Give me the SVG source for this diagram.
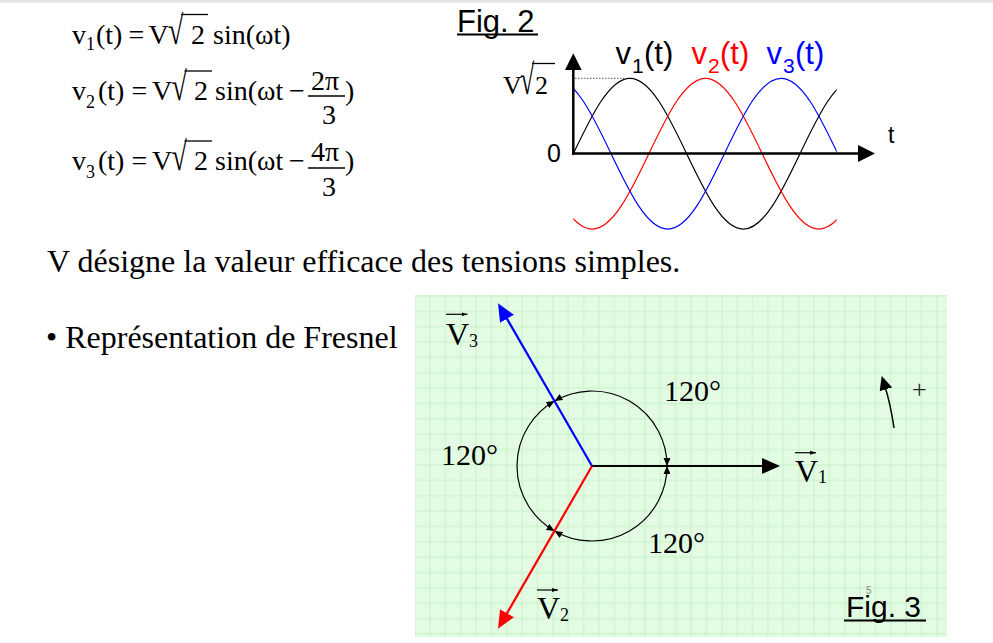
<svg xmlns="http://www.w3.org/2000/svg" width="993" height="643" viewBox="0 0 993 643">
<style>
.serif{font-family:"Liberation Serif","Times New Roman",serif;fill:#000}
.sans{font-family:"Liberation Sans",Arial,sans-serif;fill:#000}
.eq{font-size:28px}
.eqs{font-size:18px}
.body{font-size:32px}
.ang{font-size:30px}
.vec{font-size:32px}
.vsub{font-size:18px}
.lab{font-size:31px}
.labs{font-size:21px}
.rad{stroke:#000;stroke-width:1.3;fill:none}
.arc{fill:none;stroke:#000;stroke-width:1.2;marker-start:url(#smallHead);marker-end:url(#smallHead)}
.ov{stroke:#000;stroke-width:1.2;marker-end:url(#tinyHead)}
.wave{fill:none;stroke-width:1.2;vector-effect:non-scaling-stroke}
</style>
<defs>
<pattern id="grid" patternUnits="userSpaceOnUse" x="406.92" y="288.32" width="15.36" height="15.36">
<path d="M7.68 0V15.36M0 7.68H15.36" stroke="#c6f1c6" stroke-width="1" fill="none"/>
</pattern>
<marker id="headBlack" markerUnits="userSpaceOnUse" viewBox="0 0 18 16" markerWidth="18" markerHeight="16" refX="8" refY="8" orient="auto"><path d="M0,0L18,8L0,16z" fill="#000"/></marker>
<marker id="headRed" markerUnits="userSpaceOnUse" viewBox="0 0 18 16" markerWidth="18" markerHeight="16" refX="8" refY="8" orient="auto"><path d="M0,0L18,8L0,16z" fill="#f00"/></marker>
<marker id="headBlue" markerUnits="userSpaceOnUse" viewBox="0 0 18 16" markerWidth="18" markerHeight="16" refX="8" refY="8" orient="auto"><path d="M0,0L18,8L0,16z" fill="#00f"/></marker>
<marker id="axisHead" markerUnits="userSpaceOnUse" viewBox="0 0 17 17" markerWidth="17" markerHeight="17" refX="7" refY="8.5" orient="auto"><path d="M0,0L17,8.5L0,17z" fill="#000"/></marker>
<marker id="smallHead" markerUnits="userSpaceOnUse" viewBox="0 0 8 7" markerWidth="8" markerHeight="7" refX="8" refY="3.5" orient="auto-start-reverse"><path d="M0,0L8,3.5L0,7z" fill="#000"/></marker>
<marker id="tinyHead" markerUnits="userSpaceOnUse" viewBox="0 0 6 4" markerWidth="6" markerHeight="4" refX="6" refY="2" orient="auto"><path d="M0,0L6,2L0,4z" fill="#000"/></marker>
<marker id="rotHead" markerUnits="userSpaceOnUse" viewBox="0 0 14 13" markerWidth="14" markerHeight="13" refX="4" refY="6.5" orient="auto"><path d="M0,0L14,6.5L0,13z" fill="#000"/></marker>
<clipPath id="waveClip"><rect x="573.3" y="60" width="263.4" height="180"/></clipPath>
</defs>

<rect x="0" y="0" width="993" height="643" fill="#fff"/>
<rect x="0" y="0" width="993" height="2.5" fill="#e4e4e4"/>

<!-- Equations -->
<g id="equations" class="serif eq">
<g id="eq1">
<text x="72" y="43.5">v</text>
<text x="86" y="50" class="eqs">1</text>
<text x="96" y="43.5">(t)</text>
<text x="128.5" y="43.5">=</text>
<text x="148.5" y="43.5">V</text>
<text transform="translate(168,43.5) scale(1,1.44)">√</text>
<line class="rad" x1="181" y1="14.5" x2="208" y2="14.5"/>
<text x="191" y="43.5">2</text>
<text x="213" y="43.5">sin(ωt)</text>
</g>
<g id="eq2">
<text x="72" y="100">v</text>
<text x="86" y="108" class="eqs">2</text>
<text x="98" y="100">(t)</text>
<text x="131.5" y="100">=</text>
<text x="152" y="100">V</text>
<text transform="translate(171.5,100) scale(1,1.44)">√</text>
<line class="rad" x1="184.5" y1="71" x2="212" y2="71"/>
<text x="194" y="100">2</text>
<text x="215" y="100">sin(ωt</text>
<text x="289" y="100">−</text>
<text x="311" y="89.5">2π</text>
<line class="rad" x1="308" y1="96" x2="345" y2="96"/>
<text x="322" y="123.5">3</text>
<text x="345" y="100">)</text>
</g>
<g id="eq3">
<text x="72" y="170">v</text>
<text x="86" y="178" class="eqs">3</text>
<text x="98" y="170">(t)</text>
<text x="131.5" y="170">=</text>
<text x="152" y="170">V</text>
<text transform="translate(171.5,170) scale(1,1.44)">√</text>
<line class="rad" x1="184.5" y1="141" x2="212" y2="141"/>
<text x="194" y="170">2</text>
<text x="215" y="170">sin(ωt</text>
<text x="289" y="170">−</text>
<text x="311" y="161">4π</text>
<line class="rad" x1="308" y1="168" x2="345" y2="168"/>
<text x="322" y="195.5">3</text>
<text x="345" y="170">)</text>
</g>
</g>

<!-- Fig. 2 -->
<g id="fig2">
<text x="457" y="31.7" class="sans" font-size="31">Fig. 2</text>
<line x1="457" y1="34.5" x2="538" y2="34.5" stroke="#000" stroke-width="2"/>
<g id="waves" clip-path="url(#waveClip)">
<path class="wave" stroke="#000" transform="translate(573.3,153.7) scale(36.08,-75.4)" d="M-6.2832,0 c0.5123,0.5123 1.0023,1 1.5708,1 c0.5685,0 1.0585,-0.4877 1.5708,-1 c0.5123,-0.5123 1.0023,-1 1.5708,-1 c0.5685,0 1.0585,0.4877 1.5708,1 c0.5123,0.5123 1.0023,1 1.5708,1 c0.5685,0 1.0585,-0.4877 1.5708,-1 c0.5123,-0.5123 1.0023,-1 1.5708,-1 c0.5685,0 1.0585,0.4877 1.5708,1 c0.5123,0.5123 1.0023,1 1.5708,1 c0.5685,0 1.0585,-0.4877 1.5708,-1 c0.5123,-0.5123 1.0023,-1 1.5708,-1 c0.5685,0 1.0585,0.4877 1.5708,1"/>
<path class="wave" stroke="#f00" transform="translate(573.3,153.7) scale(36.08,-75.4)" d="M-4.1888,0 c0.5123,0.5123 1.0023,1 1.5708,1 c0.5685,0 1.0585,-0.4877 1.5708,-1 c0.5123,-0.5123 1.0023,-1 1.5708,-1 c0.5685,0 1.0585,0.4877 1.5708,1 c0.5123,0.5123 1.0023,1 1.5708,1 c0.5685,0 1.0585,-0.4877 1.5708,-1 c0.5123,-0.5123 1.0023,-1 1.5708,-1 c0.5685,0 1.0585,0.4877 1.5708,1 c0.5123,0.5123 1.0023,1 1.5708,1 c0.5685,0 1.0585,-0.4877 1.5708,-1 c0.5123,-0.5123 1.0023,-1 1.5708,-1 c0.5685,0 1.0585,0.4877 1.5708,1"/>
<path class="wave" stroke="#00f" transform="translate(573.3,153.7) scale(36.08,-75.4)" d="M-2.0944,0 c0.5123,0.5123 1.0023,1 1.5708,1 c0.5685,0 1.0585,-0.4877 1.5708,-1 c0.5123,-0.5123 1.0023,-1 1.5708,-1 c0.5685,0 1.0585,0.4877 1.5708,1 c0.5123,0.5123 1.0023,1 1.5708,1 c0.5685,0 1.0585,-0.4877 1.5708,-1 c0.5123,-0.5123 1.0023,-1 1.5708,-1 c0.5685,0 1.0585,0.4877 1.5708,1 c0.5123,0.5123 1.0023,1 1.5708,1 c0.5685,0 1.0585,-0.4877 1.5708,-1 c0.5123,-0.5123 1.0023,-1 1.5708,-1 c0.5685,0 1.0585,0.4877 1.5708,1"/>
</g>
<line x1="575" y1="78.3" x2="624" y2="78.3" stroke="#555" stroke-width="1" stroke-dasharray="1.5,1.5"/>
<line x1="573.3" y1="154.5" x2="573.3" y2="63.3" stroke="#000" stroke-width="2.5" marker-end="url(#axisHead)"/>
<line x1="572" y1="153.5" x2="865" y2="153.5" stroke="#000" stroke-width="2.5" marker-end="url(#axisHead)"/>
<g class="serif" font-size="26">
<text x="503" y="94">V</text>
<text transform="translate(520,94) scale(1,1.63)">√</text>
<line class="rad" x1="532" y1="63.5" x2="555" y2="63.5"/>
<text x="535" y="94">2</text>
</g>
<text x="547" y="162" class="sans" font-size="25">0</text>
<text x="888" y="143" class="sans" font-size="23">t</text>
<g class="sans">
<text x="615.5" y="63.5" class="lab">v</text><text x="632" y="73" class="labs">1</text><text x="644" y="63.5" class="lab">(t)</text>
<text x="691.5" y="63.5" class="lab" style="fill:#f00">v</text><text x="708" y="73" class="labs" style="fill:#f00">2</text><text x="720" y="63.5" class="lab" style="fill:#f00">(t)</text>
<text x="766.5" y="63.5" class="lab" style="fill:#00f">v</text><text x="783" y="73" class="labs" style="fill:#00f">3</text><text x="795" y="63.5" class="lab" style="fill:#00f">(t)</text>
</g>
</g>

<!-- Body text -->
<g id="bodytext" class="serif body">
<text x="47" y="272">V désigne la valeur efficace des tensions simples.</text>
<text x="46" y="348">• Représentation de Fresnel</text>
</g>

<!-- Fig. 3 : Fresnel diagram -->
<g id="fig3">
<rect x="415" y="295" width="532" height="342" fill="#e3fbe3"/>
<rect x="415" y="295" width="532" height="342" fill="url(#grid)"/>

<g id="connectors">
<path class="arc" d="M667,466 A75,75 0 0 0 554.5,401.05"/>
<path class="arc" d="M554.5,401.05 A75,75 0 0 0 554.5,530.95"/>
<path class="arc" d="M554.5,530.95 A75,75 0 0 0 667,466"/>
<path d="M894,428 Q890.7,404.6 884.7,385.5" fill="none" stroke="#000" stroke-width="1.5" marker-end="url(#rotHead)"/>
</g>

<g id="V1">
<line x1="592" y1="466" x2="770" y2="466" stroke="#000" stroke-width="2.2" marker-end="url(#headBlack)"/>
<line class="ov" x1="795" y1="452.7" x2="816" y2="452.7"/>
<text x="795" y="482" class="serif vec">V</text>
<text x="818" y="483" class="serif vsub">1</text>
</g>
<g id="V3">
<line x1="592" y1="466" x2="503" y2="311.9" stroke="#00f" stroke-width="2.2" marker-end="url(#headBlue)"/>
<line class="ov" x1="446" y1="314.3" x2="467.5" y2="314.3"/>
<text x="446" y="345" class="serif vec">V</text>
<text x="469" y="347" class="serif vsub">3</text>
</g>
<g id="V2">
<line x1="592" y1="466" x2="503" y2="620.1" stroke="#f00" stroke-width="2.2" marker-end="url(#headRed)"/>
<line class="ov" x1="537" y1="590" x2="558" y2="590"/>
<text x="537" y="619" class="serif vec">V</text>
<text x="560" y="621" class="serif vsub">2</text>
</g>

<g id="angles" class="serif ang">
<text x="664" y="401">120°</text>
<text x="441" y="465">120°</text>
<text x="648" y="553">120°</text>
</g>
<text x="912" y="398" class="serif" font-size="26" style="fill:#222">+</text>
<text x="866" y="593.5" class="sans" font-size="10" style="fill:#7a8c8c">5</text>
<g id="fig3title">
<text x="846" y="616.7" class="sans" font-size="30">Fig. 3</text>
<line x1="844" y1="620.5" x2="926" y2="620.5" stroke="#000" stroke-width="2"/>
</g>
</g>
</svg>
